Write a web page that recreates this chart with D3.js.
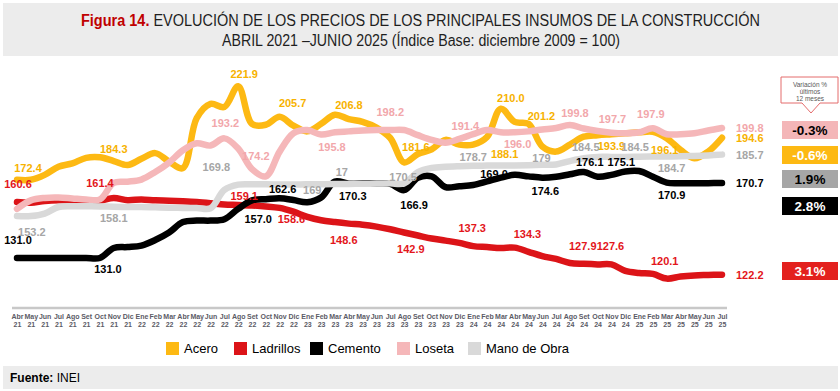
<!DOCTYPE html>
<html>
<head>
<meta charset="utf-8">
<script src="https://cdn.jsdelivr.net/npm/d3@7"></script>
<style>
body { margin: 0; background: #fff; }
svg { display: block; font-family: "Liberation Sans", Arial, sans-serif; }
</style>
</head>
<body>
<script>
// meses (abr 2021 - jul 2025)
var months = ["Abr 21","May 21","Jun 21","Jul 21","Ago 21","Set 21","Oct 21","Nov 21","Dic 21",
  "Ene 22","Feb 22","Mar 22","Abr 22","May 22","Jun 22","Jul 22","Ago 22","Set 22","Oct 22","Nov 22","Dic 22",
  "Ene 23","Feb 23","Mar 23","Abr 23","May 23","Jun 23","Jul 23","Ago 23","Set 23","Oct 23","Nov 23","Dic 23",
  "Ene 24","Feb 24","Mar 24","Abr 24","May 24","Jun 24","Jul 24","Ago 24","Set 24","Oct 24","Nov 24","Dic 24",
  "Ene 25","Feb 25","Mar 25","Abr 25","May 25","Jun 25","Jul 25"];

var acero = [172.4,172.4,175.0,179.3,181.1,184.0,184.3,182.3,180.2,183.5,
  186.5,182.0,178.6,205.0,212.5,210.9,221.9,202.0,201.5,205.7,
  201.0,198.0,202.0,206.8,204.5,203.0,200.0,194.5,181.6,186.0,
  188.5,193.5,191.0,191.0,195.0,210.0,203.0,202.0,190.0,187.3,
  191.0,195.2,196.0,196.5,197.0,197.5,197.8,194.4,188.2,183.8,
  187.3,194.6];

var ladrillos = [160.6,160.3,161.2,161.6,161.5,161.2,161.4,162.8,161.6,162.0,
  161.5,161.3,161.0,160.6,160.0,159.3,159.1,158.8,158.3,157.5,
  155.5,152.8,151.0,150.0,149.2,148.6,147.6,146.2,144.5,142.9,
  141.3,140.2,139.0,137.3,136.8,136.3,136.5,134.3,132.0,130.5,
  128.4,127.9,127.6,127.6,124.2,123.1,122.6,120.1,121.2,121.8,
  122.0,122.2];

var cemento = [131.0,131.0,131.0,131.0,131.0,131.0,131.0,136.3,136.8,137.6,
  140.5,144.5,150.0,150.8,150.8,151.5,157.0,161.5,162.1,162.6,
  161.7,160.5,163.0,171.5,170.3,170.5,170.5,170.2,166.9,173.5,
  174.2,168.5,169.0,169.6,171.5,173.5,175.0,174.2,173.5,174.0,
  175.3,176.5,174.0,175.0,176.8,177.0,174.0,170.9,170.6,170.6,
  170.6,170.7];

var loseta = [157.0,161.5,162.8,163.0,162.5,162.0,162.0,170.8,171.4,172.5,
  176.5,181.5,188.0,191.7,190.5,194.3,189.0,178.0,174.2,187.3,
  197.0,198.7,196.3,197.5,198.0,198.5,198.7,198.7,198.7,196.0,
  193.5,192.0,194.0,196.5,198.7,197.5,197.5,198.0,199.0,199.8,
  201.4,199.5,198.2,197.3,197.0,197.5,199.6,196.5,196.5,197.0,
  198.5,199.8];

var manoObra = [153.2,153.2,154.5,158.0,158.4,158.4,158.3,158.1,158.0,158.0,
  157.8,157.6,157.5,157.5,157.3,167.0,169.8,170.0,170.0,169.9,
  169.9,170.0,170.0,170.1,170.2,170.3,170.4,170.5,170.5,176.5,
  178.7,179.3,179.6,179.8,179.9,180.0,180.0,180.1,180.3,180.5,
  182.3,183.8,184.5,184.5,184.5,184.6,184.7,184.7,184.8,185.0,
  185.3,185.7];

var seriesNames = ["Acero", "Ladrillos", "Cemento", "Loseta", "Mano de Obra"];
// variación % últimos 12 meses
var variacion = ["-0.6%", "3.1%", "2.8%", "-0.3%", "1.9%"];

var series = [
  { name: "Acero", values: acero, line: "#fdb913", text: "#f7b200", box: "#fdb913", boxText: "#fff", boxY: 146, legendX: 166 },
  { name: "Ladrillos", values: ladrillos, line: "#dc1418", text: "#e3161b", box: "#e3211e", boxText: "#fff", boxY: 262, legendX: 234 },
  { name: "Cemento", values: cemento, line: "#000", text: "#000", box: "#000", boxText: "#fff", boxY: 197, legendX: 310 },
  { name: "Loseta", values: loseta, line: "#f5b7b9", text: "#f2a7ab", box: "#f4b6b8", boxText: "#000", boxY: 121, legendX: 397 },
  { name: "Mano de Obra", values: manoObra, line: "#d9d9d9", text: "#a6a6a6", box: "#a6a6a6", boxText: "#000", boxY: 170, legendX: 468 }
];

// etiquetas: serie, indice, texto, dx, dy
var dataLabels = [
  ["Acero",0,"172.4",11,-8],["Acero",7,"184.3",0,-8],["Acero",16,"221.9",6,-8],
  ["Acero",19,"205.7",13,-10],["Acero",23,"206.8",14,-6],["Acero",29,"181.6",-2,-3],
  ["Acero",36,"188.1",-10,36],["Acero",35,"210.0",10,-7],["Acero",37,"201.2",13,-4],
  ["Acero",43,"193.9",0,16],["Acero",47,"196.1",-2,16],
  ["Ladrillos",0,"160.6",1,-14],["Ladrillos",6,"161.4",0,-14],["Ladrillos",16,"159.1",6,-5],
  ["Ladrillos",20,"158.6",-2,11],["Ladrillos",24,"148.6",-5,20],["Ladrillos",29,"142.9",-7,17],
  ["Ladrillos",33,"137.3",-1,-14],["Ladrillos",37,"134.3",-1,-14],["Ladrillos",41,"127.9",-1,-14],
  ["Ladrillos",43,"127.6",-1,-14],["Ladrillos",47,"120.1",-2,-14],
  ["Cemento",0,"131.0",1,-14],["Cemento",6,"131.0",8,15],["Cemento",16,"157.0",20,14],
  ["Cemento",19,"162.6",3,-5],["Cemento",24,"170.3",4,16],["Cemento",28,"166.9",10,19],
  ["Cemento",34,"169.0",7,-3],["Cemento",38,"174.6",3,17],["Cemento",41,"176.1",6,-6],
  ["Cemento",44,"175.1",-4,-5],["Cemento",47,"170.9",5,16],
  ["Loseta",15,"193.2",1,-11],["Loseta",18,"174.2",-10,-16],["Loseta",23,"195.8",-3,19],
  ["Loseta",27,"198.2",0,-14],["Loseta",32,"191.4",6,-9],["Loseta",36,"196.0",3,16],
  ["Loseta",40,"199.8",5,-8],["Loseta",43,"197.7",1,-10],["Loseta",46,"197.9",-2,-10],
  ["Mano de Obra",1,"153.2",1,20],["Mano de Obra",7,"158.1",0,15],["Mano de Obra",15,"169.8",-8,-19],
  ["Mano de Obra",21,"169",5,10],["Mano de Obra",24,"17",-7,-8],["Mano de Obra",28,"170.5",-1,-2],
  ["Mano de Obra",33,"178.7",0,-5],["Mano de Obra",37,"179",13,-3],["Mano de Obra",41,"184.5",2,-7],
  ["Mano de Obra",45,"184.5",-4,-6],["Mano de Obra",47,"184.7",5,15]
];

var width = 840, height = 391;

var svg = d3.select("body").append("svg")
  .attr("width", width).attr("height", height);

// titulo
svg.append("rect").attr("x", 3).attr("y", 3).attr("width", 835).attr("height", 53).attr("fill", "#ececec");
var narrow = "'Liberation Sans Narrow','Arial Narrow','Liberation Sans',Arial,sans-serif";
var t1 = svg.append("text").attr("x", 81).attr("y", 26)
  .attr("font-family", narrow).attr("font-size", 16).attr("fill", "#1e1e1e")
  .attr("textLength", 679).attr("lengthAdjust", "spacingAndGlyphs");
t1.append("tspan").attr("font-weight", "bold").attr("fill", "#c00000").text("Figura 14.");
t1.append("tspan").text(" EVOLUCIÓN DE LOS PRECIOS DE LOS PRINCIPALES INSUMOS DE LA CONSTRUCCIÓN");
svg.append("text").attr("x", 222).attr("y", 46)
  .attr("font-family", narrow).attr("font-size", 16).attr("fill", "#1e1e1e")
  .attr("textLength", 398).attr("lengthAdjust", "spacingAndGlyphs")
  .text("ABRIL 2021 –JUNIO 2025 (Índice Base: diciembre 2009 = 100)");

// escalas
var x = d3.scalePoint().domain(months).range([17, 722]);
var y = d3.scaleLinear().domain([100, 230]).range([316.6, 70.9]);

// eje x
var xAxis = svg.append("g").attr("transform", "translate(0,308)")
  .call(d3.axisBottom(x).tickSize(0).tickFormat(""));
xAxis.select(".domain").remove();
svg.append("line").attr("x1", 12).attr("x2", 727).attr("y1", 308).attr("y2", 308)
  .attr("stroke", "#c8c8c8").attr("stroke-width", 2.5);
xAxis.selectAll(".tick").each(function(d) {
  var parts = d.split(" ");
  var g = d3.select(this);
  g.append("text").attr("y", 11).attr("text-anchor", "middle")
    .attr("font-size", 7).attr("font-weight", "bold").attr("fill", "#5b5b66").text(parts[0]);
  g.append("text").attr("y", 19).attr("text-anchor", "middle")
    .attr("font-size", 7).attr("font-weight", "bold").attr("fill", "#5b5b66").text(parts[1]);
});

// lineas
var line = d3.line()
  .x(function(d, i) { return x(months[i]); })
  .y(function(d) { return y(d); })
  .curve(d3.curveCatmullRom.alpha(0.5));

svg.append("g").selectAll("path")
  .data(series)
  .enter()
  .append("path")
  .attr("d", function(s) { return line(s.values); })
  .attr("fill", "none")
  .attr("stroke", function(s) { return s.line; })
  .attr("stroke-width", 6.5)
  .attr("stroke-linecap", "round")
  .attr("stroke-linejoin", "round");

// etiquetas de datos
var byName = {};
series.forEach(function(s) { byName[s.name] = s; });

svg.append("g").selectAll("text")
  .data(dataLabels)
  .enter()
  .append("text")
  .attr("x", function(d) { return x(months[d[1]]) + d[3]; })
  .attr("y", function(d) { return y(byName[d[0]].values[d[1]]) + d[4]; })
  .attr("text-anchor", "middle")
  .attr("font-size", 11).attr("font-weight", "bold")
  .attr("fill", function(d) { return byName[d[0]].text; })
  .text(function(d) { return d[2]; });

// ultimo valor
var fmt = d3.format(".1f");
svg.append("g").selectAll("text")
  .data(series)
  .enter()
  .append("text")
  .attr("x", x(months[months.length - 1]) + 14)
  .attr("y", function(s) { return y(s.values[s.values.length - 1]) + 4.5; })
  .attr("font-size", 11).attr("font-weight", "bold")
  .attr("fill", function(s) { return s.text; })
  .text(function(s) { return fmt(s.values[s.values.length - 1]); });

// cuadro variacion
svg.append("path")
  .attr("d", "M781,77H838V103H820L811,113L802,103H781Z")
  .attr("fill", "#fff").attr("stroke", "#e46c6c").attr("stroke-width", 1);
["Variación %", "últimos", "12 meses"].forEach(function(t, i) {
  svg.append("text").attr("x", 810).attr("y", 86.5 + i * 7)
    .attr("text-anchor", "middle").attr("font-size", 6.5).attr("fill", "#595959").text(t);
});

var boxes = svg.append("g").selectAll("g")
  .data(series)
  .enter()
  .append("g");
boxes.append("rect")
  .attr("x", 782).attr("y", function(s) { return s.boxY; })
  .attr("width", 56).attr("height", 18)
  .attr("fill", function(s) { return s.box; });
boxes.append("text")
  .attr("x", 810).attr("y", function(s) { return s.boxY + 14; })
  .attr("text-anchor", "middle").attr("font-size", 13.5).attr("font-weight", "bold")
  .attr("fill", function(s) { return s.boxText; })
  .text(function(s, i) { return variacion[i]; });

// leyenda
seriesNames.forEach(function(n) {
  var s = byName[n];
  svg.append("rect").attr("x", s.legendX).attr("y", 342).attr("width", 13).attr("height", 13).attr("fill", s.line);
  svg.append("text").attr("x", s.legendX + 18).attr("y", 353)
    .attr("font-size", 13).attr("fill", "#000").text(n);
});

// fuente
svg.append("rect").attr("x", 3).attr("y", 366).attr("width", 835).attr("height", 23).attr("fill", "#ececec");
var f = svg.append("text").attr("x", 10).attr("y", 382).attr("font-size", 12).attr("fill", "#000");
f.append("tspan").attr("font-weight", "bold").text("Fuente:");
f.append("tspan").text(" INEI");
</script>
</body>
</html>
